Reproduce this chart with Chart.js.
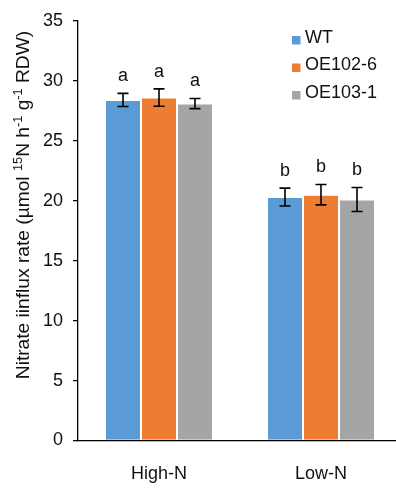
<!DOCTYPE html>
<html>
<head>
<meta charset="utf-8">
<script src="https://cdn.jsdelivr.net/npm/chart.js@4"></script>
<style>
  html, body { margin: 0; padding: 0; background: #fff; overflow: hidden; }
  #wrap { width: 396px; height: 488px; overflow: hidden; }
  canvas { display: block; }
</style>
</head>
<body>
<div id="wrap"><canvas id="c" width="410" height="488"></canvas></div>
<script>
// Nitrate influx under two N regimes, three genotypes
const categories = ['High-N', 'Low-N'];
const seriesNames = ['WT', 'OE102-6', 'OE103-1'];
const seriesColors = ['#5B9BD5', '#ED7D31', '#A5A5A5'];

const wtMeans = [28.4, 20.3];
const wtErr = [0.55, 0.75];
const oe102Means = [28.6, 20.5];
const oe102Err = [0.72, 0.85];
const oe103Means = [28.1, 20.1];
const oe103Err = [0.42, 1.0];

// significance letters, one per category
const wtLetters = ['a', 'b'];
const oe102Letters = ['a', 'b'];
const oe103Letters = ['a', 'b'];

const yTicks = [0, 5, 10, 15, 20, 25, 30, 35];

const FONT = '"Liberation Sans", Arial, sans-serif';
const TEXT = '#111';
const FS = 18;

const means = [wtMeans, oe102Means, oe103Means];
const errs = [wtErr, oe102Err, oe103Err];
const letters = [wtLetters, oe102Letters, oe103Letters];

// error bars + letters above each bar
const errorBarPlugin = {
  id: 'errorBars',
  afterDatasetsDraw(chart) {
    const ctx = chart.ctx;
    const y = chart.scales.y;
    ctx.save();
    chart.data.datasets.forEach((ds, i) => {
      const meta = chart.getDatasetMeta(i);
      meta.data.forEach((bar, j) => {
        const v = ds.data[j];
        const e = ds.errors[j];
        const yTop = y.getPixelForValue(v + e);
        const yBot = y.getPixelForValue(v - e);
        const x = bar.x;
        ctx.strokeStyle = '#000';
        ctx.lineWidth = 1.6;
        ctx.beginPath();
        ctx.moveTo(x, yTop); ctx.lineTo(x, yBot);
        ctx.moveTo(x - 5.5, yTop); ctx.lineTo(x + 5.5, yTop);
        ctx.moveTo(x - 5.5, yBot); ctx.lineTo(x + 5.5, yBot);
        ctx.stroke();
        ctx.fillStyle = TEXT;
        ctx.font = FS + 'px ' + FONT;
        ctx.textAlign = 'center';
        ctx.textBaseline = 'middle';
        ctx.fillText(ds.letters[j], x, yTop - 17);
      });
    });
    ctx.restore();
  }
};

// legend in the upper right of the plot
const legendPlugin = {
  id: 'cornerLegend',
  afterDraw(chart) {
    const ctx = chart.ctx;
    ctx.save();
    ctx.font = FS + 'px ' + FONT;
    ctx.textAlign = 'left';
    ctx.textBaseline = 'middle';
    chart.data.datasets.forEach((ds, i) => {
      const cy = 38 + i * 27.5;
      ctx.fillStyle = ds.backgroundColor;
      ctx.fillRect(292, cy - 2, 8.5, 8.5);
      ctx.fillStyle = TEXT;
      ctx.fillText(ds.label, 305, cy);
    });
    ctx.restore();
  }
};

// rotated y-axis title with superscripts
const yTitlePlugin = {
  id: 'yTitle',
  afterDraw(chart) {
    const ctx = chart.ctx;
    const parts = [
      ['Nitrate iinflux rate (\u00B5mol ', false],
      ['15', true],
      ['N h', false],
      ['-1', true],
      [' g', false],
      ['-1', true],
      [' RDW)', false]
    ];
    const big = FS + 'px ' + FONT, small = '12px ' + FONT;
    let total = 0;
    parts.forEach(p => { ctx.font = p[1] ? small : big; total += ctx.measureText(p[0]).width; });
    ctx.save();
    ctx.translate(23, 205);
    ctx.rotate(-Math.PI / 2);
    ctx.scale(1.065, 1);
    ctx.fillStyle = TEXT;
    ctx.textBaseline = 'alphabetic';
    ctx.textAlign = 'left';
    let x = -total / 2;
    parts.forEach(p => {
      ctx.font = p[1] ? small : big;
      ctx.fillText(p[0], x, p[1] ? -1 : 6);
      x += ctx.measureText(p[0]).width;
    });
    ctx.restore();
  }
};

const datasets = seriesNames.map((name, i) => ({
  label: name,
  data: means[i],
  errors: errs[i],
  letters: letters[i],
  backgroundColor: seriesColors[i],
  borderColor: 'rgba(255,255,255,0.35)',
  borderWidth: 1,
  categoryPercentage: 0.6667,
  barPercentage: 1.0
}));

new Chart(document.getElementById('c'), {
  type: 'bar',
  data: { labels: categories, datasets },
  options: {
    responsive: false,
    animation: false,
    layout: { padding: { top: 17, right: 8, left: 0, bottom: 0 } },
    plugins: { legend: { display: false }, tooltip: { enabled: false } },
    scales: {
      x: {
        grid: { display: false, drawTicks: false },
        border: { display: true, color: '#000', width: 1.3 },
        ticks: { color: TEXT, font: { family: FONT, size: FS }, padding: 23 },
        afterFit(s) { s.height = 47.5; }
      },
      y: {
        min: 0, max: 35,
        afterBuildTicks(s) { s.ticks = yTicks.map(v => ({ value: v })); },
        grid: { drawOnChartArea: false, drawTicks: true, tickLength: 5, color: '#000', lineWidth: 1.3 },
        border: { display: true, color: '#000', width: 1.3 },
        ticks: { color: TEXT, font: { family: FONT, size: FS }, padding: 10 },
        afterFit(s) { s.width = 78; }
      }
    }
  },
  plugins: [errorBarPlugin, legendPlugin, yTitlePlugin]
});
</script>
</body>
</html>
